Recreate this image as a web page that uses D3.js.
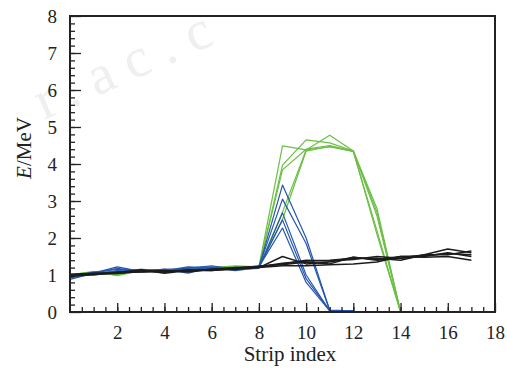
<!DOCTYPE html>
<html>
<head>
<meta charset="utf-8"/>
<script src="https://d3js.org/d3.v7.min.js"></script>
<style>
    body { margin: 0; background: #fff; }
    text { font-family: "Liberation Serif", "DejaVu Serif", serif; }
</style>
</head>
<body>
<svg width="507" height="369"></svg>
<script>
    // energia por strip, lineas negras (0..17)
    const black1 = [1.00, 1.03, 1.05, 1.10, 1.08, 1.12, 1.12, 1.17, 1.20, 1.50, 1.30, 1.35, 1.48, 1.40, 1.45, 1.50, 1.60, 1.50];
    const black2 = [0.98, 1.02, 1.06, 1.08, 1.10, 1.10, 1.14, 1.15, 1.22, 1.32, 1.38, 1.40, 1.45, 1.45, 1.40, 1.55, 1.55, 1.65];
    const black3 = [1.02, 1.05, 1.04, 1.12, 1.08, 1.14, 1.12, 1.18, 1.24, 1.28, 1.35, 1.30, 1.48, 1.42, 1.50, 1.52, 1.58, 1.55];
    const black4 = [1.00, 1.00, 1.08, 1.10, 1.12, 1.08, 1.16, 1.17, 1.20, 1.25, 1.25, 1.28, 1.30, 1.35, 1.50, 1.48, 1.50, 1.40];
    const black5 = [0.95, 1.04, 1.06, 1.14, 1.05, 1.12, 1.15, 1.20, 1.22, 1.30, 1.40, 1.38, 1.42, 1.50, 1.45, 1.55, 1.70, 1.60];

    // lineas azules (0..12)
    const blue1 = [0.88, 1.05, 1.22, 1.10, 1.15, 1.05, 1.20, 1.12, 1.20, 3.43, 2.00, 0.05, 0.03];
    const blue2 = [0.95, 1.08, 1.15, 1.12, 1.10, 1.20, 1.22, 1.18, 1.22, 3.05, 1.85, 0.04, 0.03];
    const blue3 = [1.00, 1.05, 1.10, 1.15, 1.12, 1.18, 1.25, 1.15, 1.18, 2.68, 1.00, 0.03, 0.03];
    const blue4 = [0.92, 1.02, 1.12, 1.08, 1.12, 1.22, 1.18, 1.20, 1.20, 2.49, 0.90, 0.04, 0.03];
    const blue5 = [0.98, 1.04, 1.18, 1.10, 1.16, 1.15, 1.20, 1.17, 1.22, 2.27, 0.80, 0.03, 0.03];

    // lineas verdes (0..14)
    const green1 = [1.00, 1.10, 0.98, 1.12, 1.10, 1.15, 1.18, 1.20, 1.22, 4.49, 4.38, 4.78, 4.35, 2.80, 0.00];
    const green2 = [1.02, 1.08, 1.00, 1.15, 1.12, 1.18, 1.16, 1.22, 1.20, 3.97, 4.65, 4.57, 4.35, 2.70, 0.00];
    const green3 = [0.98, 1.05, 1.02, 1.10, 1.14, 1.12, 1.20, 1.25, 1.22, 3.84, 4.40, 4.50, 4.35, 2.60, 0.00];
    const green4 = [1.00, 1.06, 1.00, 1.13, 1.12, 1.16, 1.18, 1.22, 1.20, 2.70, 4.38, 4.46, 4.35, 2.10, 0.00];
    const green5 = [1.00, 1.04, 1.02, 1.12, 1.10, 1.14, 1.19, 1.23, 1.22, 2.50, 4.35, 4.48, 4.33, 2.20, 0.00];

    const xTickLabels = [2, 4, 6, 8, 10, 12, 14, 16, 18];
    const yTickLabels = [0, 1, 2, 3, 4, 5, 6, 7, 8];

    const green = "#6cbf45", blue = "#2656ad", black = "#1c1c1c";

    const svg = d3.select("svg");

    // marca de agua
    svg.append("text")
        .attr("transform", "translate(44,120) rotate(-24)")
        .style("font-size", "56px")
        .style("fill", "#efefef")
        .style("letter-spacing", "14px")
        .text("r.ac.c");

    const mLeft = 70, mRight = 495, mTop = 16, mBottom = 312;
    const x = d3.scaleLinear().domain([0, 18]).range([mLeft, mRight]);
    const y = d3.scaleLinear().domain([0, 8]).range([mBottom, mTop]);

    const line = d3.line()
        .x((d, i) => x(i))
        .y(d => y(d));

    const series = [
        {vals: green1, c: green}, {vals: green2, c: green}, {vals: green3, c: green},
        {vals: green4, c: green}, {vals: green5, c: green},
        {vals: blue1, c: blue}, {vals: blue2, c: blue}, {vals: blue3, c: blue},
        {vals: blue4, c: blue}, {vals: blue5, c: blue},
        {vals: black1, c: black}, {vals: black2, c: black}, {vals: black3, c: black},
        {vals: black4, c: black}, {vals: black5, c: black}
    ];

    svg.append("g")
        .selectAll("path")
        .data(series).enter()
        .append("path")
        .attr("d", d => line(d.vals))
        .attr("fill", "none")
        .attr("stroke", d => d.c)
        .attr("stroke-width", d => d.c === black ? 1.5 : 1.2)
        .attr("stroke-linejoin", "round");

    // ejes con ticks hacia adentro
    const xMinor = d3.axisBottom(x).tickValues(d3.range(0.5, 18, 0.5)).tickSize(-5).tickFormat("");
    const xMajor = d3.axisBottom(x).tickValues(xTickLabels).tickSize(-9).tickPadding(14).tickFormat(d3.format("d"));
    const yMinor = d3.axisLeft(y).tickValues(d3.range(0.2, 8, 0.2)).tickSize(-5).tickFormat("");
    const yMajor = d3.axisLeft(y).tickValues(yTickLabels).tickSize(-11).tickPadding(13).tickFormat(d3.format("d"));

    [xMinor, xMajor].forEach(ax => {
        svg.append("g").attr("transform", "translate(0," + mBottom + ")").call(ax);
    });
    [yMinor, yMajor].forEach(ax => {
        svg.append("g").attr("transform", "translate(" + mLeft + ",0)").call(ax);
    });

    svg.selectAll(".domain").remove();
    svg.selectAll(".tick line").attr("stroke", "#222").attr("stroke-width", 1.3);
    svg.selectAll(".tick text").style("font-size", "19px").attr("fill", "#222");

    // marco
    svg.append("rect")
        .attr("x", mLeft).attr("y", mTop)
        .attr("width", mRight - mLeft).attr("height", mBottom - mTop)
        .attr("fill", "none").attr("stroke", "#222").attr("stroke-width", 2);

    svg.append("text")
        .attr("x", 290).attr("y", 361)
        .attr("text-anchor", "middle")
        .style("font-size", "21px")
        .attr("fill", "#222")
        .text("Strip index");

    const yLab = svg.append("text")
        .attr("transform", "translate(31,148) rotate(-90)")
        .attr("text-anchor", "middle")
        .style("font-size", "21px")
        .attr("fill", "#222");
    yLab.append("tspan").style("font-style", "italic").text("E");
    yLab.append("tspan").text("/MeV");
</script>
</body>
</html>
